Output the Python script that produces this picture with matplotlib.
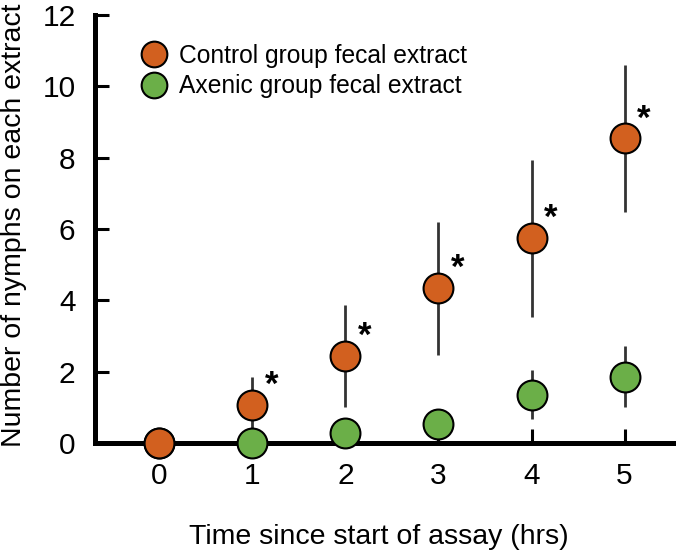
import matplotlib

matplotlib.use("Agg")
import matplotlib.pyplot as plt

plt.rcParams["font.family"] = ["Liberation Sans", "DejaVu Sans"]

hours = [0, 1, 2, 3, 4, 5]
control_mean = [0.0, 1.08, 2.44, 4.34, 5.74, 8.54]
control_err = [0.0, 0.78, 1.44, 1.87, 2.2, 2.05]
axenic_mean = [0.0, 0.0, 0.29, 0.52, 1.36, 1.86]
axenic_err = [0.0, 0.0, 0.2, 0.3, 0.7, 0.86]
significant = [False, True, True, True, True, True]

orange = "#D2601F"
green = "#6BAF48"
bar_color = "#333333"

fig = plt.figure(figsize=(6.77, 5.56), dpi=100)
ax = fig.add_axes([0.1403, 0.2032, 0.8538, 0.7698])

# error bars first so both sets of circles sit on top of them
for means, errs in ((control_mean, control_err), (axenic_mean, axenic_err)):
    ax.errorbar(hours, means, yerr=errs, fmt="none", ecolor=bar_color,
                elinewidth=2.0, capsize=0, zorder=2, clip_on=False)

ax.plot(hours, axenic_mean, "o", ms=21.5, mfc=green, mec="black", mew=1.5,
        zorder=3, clip_on=False, label="Axenic group fecal extract")
ax.plot(hours, control_mean, "o", ms=21.5, mfc=orange, mec="black", mew=1.5,
        zorder=4, clip_on=False, label="Control group fecal extract")

for x, y, sig in zip(hours, control_mean, significant):
    if sig:
        ax.annotate("*", (x, y), xytext=(14, 14), textcoords="offset points",
                    ha="center", va="center", fontsize=25, fontweight="bold")

ax.set_xlim(-0.69, 5.52)
ax.set_ylim(0, 12)
ax.set_xticks(hours)
ax.set_yticks([0, 2, 4, 6, 8, 10, 12])

for side in ("top", "right"):
    ax.spines[side].set_visible(False)
for side in ("left", "bottom"):
    ax.spines[side].set_linewidth(3.6)
ax.tick_params(direction="in", length=10, width=2.2, labelsize=21.5, pad=14)

fig.text(0.559, 1 - 537 / 556, "Time since start of assay (hrs)",
         ha="center", va="center", fontsize=20.5)
fig.text(0.021, 0.595, "Number of nymphs on each extract", rotation=90,
         ha="center", va="center", fontsize=20.5)

handles, labels = ax.get_legend_handles_labels()
leg = ax.legend(handles[::-1], labels[::-1], loc="upper left",
                bbox_to_anchor=(0.2097, 1 - 44 / 556), bbox_transform=fig.transFigure,
                frameon=False, fontsize=17.7, markerscale=18.5 / 21.5,
                handlelength=1.0, handletextpad=0.5, labelspacing=0.25,
                borderpad=0, borderaxespad=0)

fig.savefig("out.png", dpi=100)
